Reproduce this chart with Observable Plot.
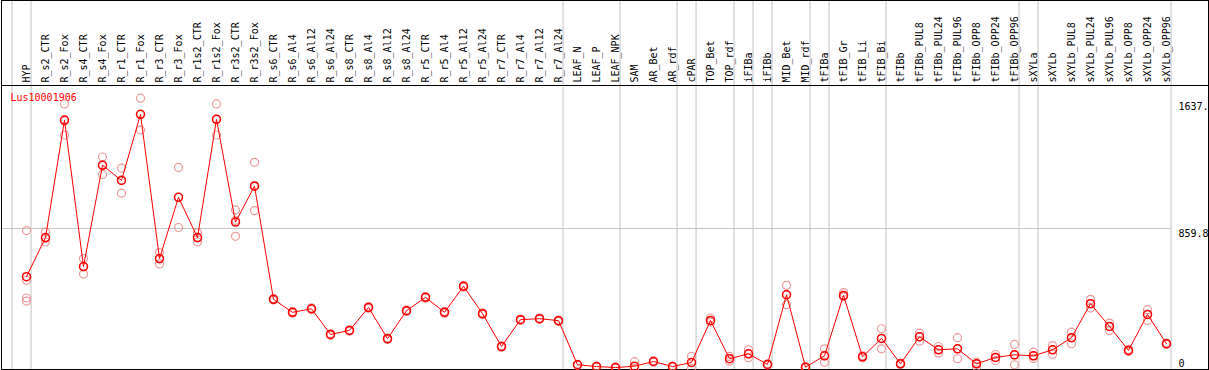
<!DOCTYPE html>
<html>
<head>
<meta charset="utf-8">
<script src="https://cdn.jsdelivr.net/npm/d3@7"></script>
<script src="https://cdn.jsdelivr.net/npm/@observablehq/plot@0.6"></script>
<style>
  html, body { margin: 0; padding: 0; background: #fff; }
  #chart svg { display: block; }
</style>
</head>
<body>
<div id="chart"></div>
<script>
const geneName = "Lus10001906";

const categories = [
  "HYP",
  "R_s2_CTR","R_s2_Fox","R_s4_CTR","R_s4_Fox","R_r1_CTR","R_r1_Fox","R_r3_CTR","R_r3_Fox",
  "R_r1s2_CTR","R_r1s2_Fox","R_r3s2_CTR","R_r3s2_Fox",
  "R_s6_CTR","R_s6_Al4","R_s6_Al12","R_s6_Al24","R_s8_CTR","R_s8_Al4","R_s8_Al12","R_s8_Al24",
  "R_r5_CTR","R_r5_Al4","R_r5_Al12","R_r5_Al24","R_r7_CTR","R_r7_Al4","R_r7_Al12","R_r7_Al24",
  "LEAF_N","LEAF_P","LEAF_NPK",
  "SAM","AR_Bet","AR_rdf",
  "cPAR",
  "TOP_Bet","TOP_rdf",
  "iFIBa",
  "iFIBb",
  "MID_Bet","MID_rdf",
  "tFIBa",
  "tFIB_Gr","tFIB_Li","tFIB_Bi",
  "tFIBb","tFIBb_PUL8","tFIBb_PUL24","tFIBb_PUL96","tFIBb_OPP8","tFIBb_OPP24","tFIBb_OPP96",
  "sXYLa",
  "sXYLb","sXYLb_PUL8","sXYLb_PUL24","sXYLb_PUL96","sXYLb_OPP8","sXYLb_OPP24","sXYLb_OPP96"
];

// group id of each category (a separator is drawn after each group)
const groups = [
  0,
  1,1,1,1,1,1,1,1,1,1,1,1,1,1,1,1,1,1,1,1,1,1,1,1,1,1,1,1,
  2,2,2,
  3,3,3,
  4,
  5,5,
  6,
  7,
  8,8,
  9,
  10,10,10,
  11,11,11,11,11,11,11,
  12,
  13,13,13,13,13,13,13
];

const means = [
  564,
  804,1526,626,1248,1155,1561,675,1051,
  804,1530,899,1120,
  425,345,367,209,234,375,183,355,
  437,345,505,337,135,300,306,294,
  23,12,6,
  14,43,12,
  37,
  295,60,
  90,
  25,
  453,8,
  78,
  449,72,185,
  29,195,115,121,29,68,84,
  78,
  115,189,398,258,111,332,152
];

const replicates = [
  [847,542,433,414],
  [838,800,777],[1625,1520,1434],[675,625,580],[1299,1250,1192],[1231,1158,1077],[1660,1560,1465],[712,672,642],[1235,1052,866],
  [833,802,777],[1625,1532,1434],[974,910,812],[1266,1125,970],
  [430,425,420],[350,345,340],[372,367,362],[214,209,204],[238,234,230],[380,375,370],[188,183,178],[360,355,350],
  [442,437,432],[350,345,340],[510,505,500],[342,337,332],[139,135,131],[304,300,296],[310,306,302],[298,294,290],
  [26,23,20],[14,12,10],[8,6,4],
  [42,0,0],[47,43,39],[14,12,10],
  [74,37,0],
  [310,295,285],[74,60,45],
  [115,90,66],
  [28,25,22],
  [511,453,392],[10,8,6],
  [121,78,39],
  [466,449,440],[78,72,66],[244,185,121],
  [33,29,25],[217,195,168],[135,115,94],[189,121,60],[39,29,12],[86,68,49],[148,84,23],
  [100,78,62],
  [141,115,88],[223,189,152],[425,398,371],[279,258,234],[118,111,104],[361,332,295],[156,152,148]
];

const tickValues = [1637, 859.8];
const tickLabels = ["1637.", "859.8"];
const zeroLabel = "0";
const yTop = 1738;      // value at the top of the plotting area (header line)
const gridValue = 859.8;

// derived tables
const meanData = means.map((v, i) => ({i, v}));
const repData = replicates.flatMap((arr, i) => arr.map(v => ({i, v})));
const separators = [-1];
groups.forEach((g, i) => { if (i === groups.length - 1 || groups[i + 1] !== g) separators.push(i); });
const sepPos = separators.map(i => i + 0.24);
const xLeftEdge = -25 / 19;

const font = "DejaVu Sans Mono";
const gray = "#c4c4c4";

const chart = Plot.plot({
  width: 1209,
  height: 370,
  marginTop: 0,
  marginBottom: 1,
  marginLeft: 1,
  marginRight: 1,
  style: {fontFamily: font, fontSize: "10px", background: "#fff"},
  x: {type: "linear", domain: [0, categories.length - 1], range: [26, 1166], axis: null},
  y: {type: "linear", domain: [0, yTop], range: [368, 85], axis: null},
  marks: [
    Plot.ruleX(sepPos, {stroke: gray, strokeWidth: 1}),
    Plot.ruleY([gridValue], {x1: xLeftEdge, x2: sepPos[sepPos.length - 1], stroke: gray, strokeWidth: 1}),
    Plot.ruleY([yTop], {stroke: "black", strokeWidth: 1}),
    Plot.frame({stroke: "black", strokeWidth: 1}),
    Plot.text(categories, {
      x: (d, i) => i, y: () => yTop, text: d => d,
      rotate: -90, textAnchor: "start", dy: -3,
      fontFamily: font, fontSize: 10, fill: "black"
    }),
    Plot.text([geneName], {
      frameAnchor: "top-left", dx: 9, dy: 97, textAnchor: "start", lineAnchor: "middle",
      fill: "red", fontFamily: font, fontSize: 10
    }),
    Plot.text(tickValues, {
      y: d => d, text: (d, i) => tickLabels[i], frameAnchor: "right", dx: -30,
      textAnchor: "start", lineAnchor: "top", dy: 1, fill: "black", fontFamily: font, fontSize: 10
    }),
    Plot.text([0], {
      y: d => d, text: () => zeroLabel, frameAnchor: "right", dx: -30, dy: -2,
      textAnchor: "start", lineAnchor: "bottom", fill: "black", fontFamily: font, fontSize: 10
    }),
    Plot.dot(repData, {x: "i", y: "v", r: 4, stroke: "#ec9999", strokeWidth: 1.2, fill: "none"}),
    Plot.line(meanData, {x: "i", y: "v", stroke: "red", strokeWidth: 1}),
    Plot.dot(meanData, {x: "i", y: "v", r: 4, stroke: "red", strokeWidth: 1.5, fill: "none"})
  ]
});

document.getElementById("chart").appendChild(chart);
</script>
</body>
</html>
